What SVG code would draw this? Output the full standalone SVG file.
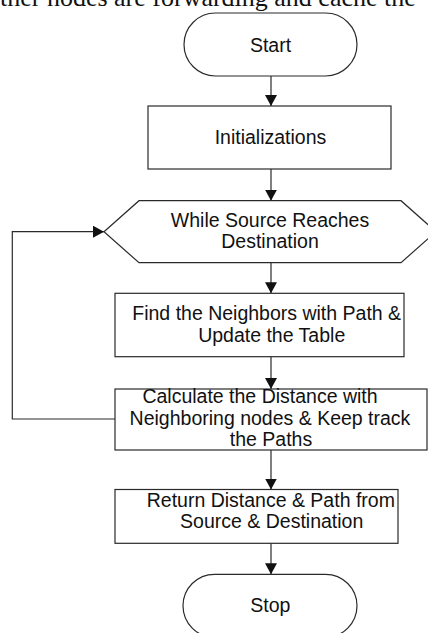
<svg xmlns="http://www.w3.org/2000/svg" width="428" height="633" viewBox="0 0 428 633">
<defs>
<style>
.shape{fill:#fff;stroke:#2a2a2a;stroke-width:1.2}
.lbl{font-family:"Liberation Sans",Arial,sans-serif;font-size:19.5px;fill:#111;text-anchor:middle}
.edge{fill:none;stroke:#2a2a2a;stroke-width:1.2}
.top{font-family:"Liberation Serif","Times New Roman",serif;font-size:26px;fill:#111}
</style>
<marker id="ah" markerUnits="userSpaceOnUse" markerWidth="12" markerHeight="12" refX="11" refY="6" orient="auto">
<path d="M0,0 L11,6 L0,12 Z" fill="#111"/>
</marker>
</defs>
<rect width="428" height="633" fill="#fff"/>
<text class="top" x="0" y="6">ther nodes are forwarding and cache the</text>
<g id="connectors">
<line class="edge" x1="271" y1="76" x2="271" y2="106" marker-end="url(#ah)"/>
<line class="edge" x1="271" y1="169" x2="271" y2="200.7" marker-end="url(#ah)"/>
<line class="edge" x1="271" y1="262.7" x2="271" y2="293.3" marker-end="url(#ah)"/>
<line class="edge" x1="271" y1="356.7" x2="271" y2="389" marker-end="url(#ah)"/>
<line class="edge" x1="271" y1="450" x2="271" y2="489.5" marker-end="url(#ah)"/>
<line class="edge" x1="271" y1="543.3" x2="271" y2="574.3" marker-end="url(#ah)"/>
<polyline class="edge" points="115,419 12.3,419 12.3,231.7 104,231.7" marker-end="url(#ah)"/>
</g>
<g id="start">
<rect class="shape" x="184" y="13" width="173" height="63" rx="31.5" ry="31.5"/>
<text class="lbl" x="270.5" y="51.5">Start</text>
</g>
<g id="init">
<rect class="shape" x="148" y="106" width="243" height="63"/>
<text class="lbl" x="270.5" y="144">Initializations</text>
</g>
<g id="while">
<polygon class="shape" points="104,231.7 139,200.7 401,200.7 436,231.7 401,262.7 139,262.7"/>
<text class="lbl" x="270" y="226.5">While Source Reaches</text>
<text class="lbl" x="270" y="248">Destination</text>
</g>
<g id="find">
<rect class="shape" x="115" y="293.3" width="289" height="63.4"/>
<text class="lbl" x="266.7" y="320">Find the Neighbors with Path &amp;</text>
<text class="lbl" x="271.7" y="341.5">Update the Table</text>
</g>
<g id="calc">
<rect class="shape" x="115" y="389" width="312" height="61"/>
<text class="lbl" x="260" y="403">Calculate the Distance with</text>
<text class="lbl" x="270" y="424.5">Neighboring nodes &amp; Keep track</text>
<text class="lbl" x="271" y="446">the Paths</text>
</g>
<g id="return">
<rect class="shape" x="115" y="489.5" width="283" height="53.8"/>
<text class="lbl" x="270.8" y="506.5">Return Distance &amp; Path from</text>
<text class="lbl" x="271.7" y="528">Source &amp; Destination</text>
</g>
<g id="stop">
<rect class="shape" x="183" y="574.3" width="174" height="63" rx="31.5" ry="31.5"/>
<text class="lbl" x="270.3" y="612">Stop</text>
</g>
</svg>
